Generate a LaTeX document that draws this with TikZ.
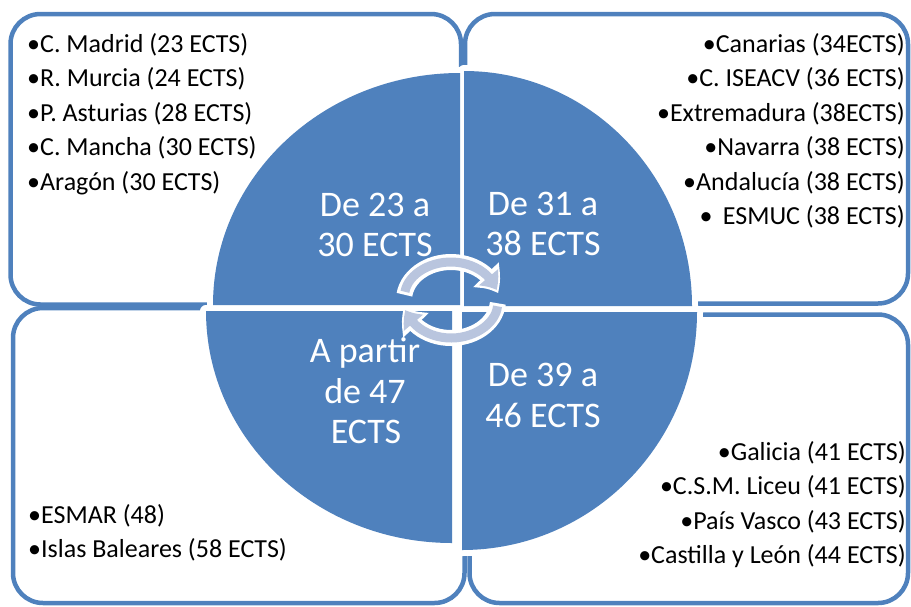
\documentclass[tikz,border=0pt]{standalone}
\usepackage{fontspec}
\setmainfont{Carlito}
\usetikzlibrary{arrows.meta,bending}

\definecolor{ctsblue}{RGB}{79,129,189}
\definecolor{cycfill}{RGB}{185,197,222}

\tikzset{
  box/.style={draw=ctsblue, line width=4.5pt, rounded corners=30pt},
  halo/.style={draw=white, line width=12pt, line join=round},
  quarter/.style={fill=ctsblue},
  item/.style={inner sep=0pt, font=\fontsize{26}{31}\selectfont},
  ectsrange/.style={inner sep=0pt, text=white, font=\fontsize{36}{40}\selectfont},
  cycback/.style={draw=white, line width=16pt, -{Triangle[length=22pt,width=34pt,bend]}},
  cycfront/.style={draw=cycfill, line width=9pt, -{Triangle[length=15pt,width=24pt,bend]},
    shorten >=3.5pt, shorten <=3pt}
}

% quarter of an ellipse: centre x, centre y, start angle, x radius, y radius
\newcommand{\quarterpath}[5]{(#1,#2) -- ++(#3:#4pt and #5pt)
  arc[start angle=#3, delta angle=90, x radius=#4pt, y radius=#5pt] -- cycle}

\begin{document}
\begin{tikzpicture}[x=1pt, y=-1pt]
    \useasboundingbox (0,0) rectangle (911,606);

    % Four rounded boxes
    \draw[box] (10.5,14) rectangle (461,304.5);
    \draw[box] (465,14) rectangle (908,303.5);
    \draw[box] (13,308) rectangle (464.5,603);
    \draw[box] (469.5,314.5) rectangle (908,603);

    % White rims round the quarters
    \path[halo] \quarterpath{460}{305}{90}{247}{232};
    \path[halo] \quarterpath{464}{306}{0}{228}{235};
    \path[halo] \quarterpath{452}{311}{180}{246}{232};
    \path[halo] \quarterpath{462}{312}{270}{235}{238};

    % The four quarters
    \fill[quarter] \quarterpath{460}{305}{90}{247}{232};
    \fill[quarter] \quarterpath{464}{306}{0}{228}{235};
    \fill[quarter] \quarterpath{452}{311}{180}{246}{232};
    \fill[quarter] \quarterpath{462}{312}{270}{235}{238};

    % Ranges
    \node[ectsrange, anchor=base] (tlr1) at (375,216) {De 23 a};
    \node[ectsrange, anchor=base] (tlr2) at (375,256) {30 ECTS};
    \node[ectsrange, anchor=base] (trr1) at (543,215) {De 31 a};
    \node[ectsrange, anchor=base] (trr2) at (543,255) {38 ECTS};
    \node[ectsrange, anchor=base] (blr1) at (365,362) {A partir};
    \node[ectsrange, anchor=base] (blr2) at (365,403) {de 47};
    \node[ectsrange, anchor=base] (blr3) at (366,443) {ECTS};
    \node[ectsrange, anchor=base] (brr1) at (543,386) {De 39 a};
    \node[ectsrange, anchor=base] (brr2) at (543,427) {46 ECTS};

    % Cycle arrows in the middle
    \coordinate (cyc) at (451,300);
    \draw[cycback] (cyc) ++(172:47pt and 38pt)
      arc[start angle=172, end angle=10, x radius=47pt, y radius=38pt];
    \draw[cycfront] (cyc) ++(172:47pt and 38pt)
      arc[start angle=172, end angle=10, x radius=47pt, y radius=38pt];
    \draw[cycback] (cyc) ++(-5:47pt and 38pt)
      arc[start angle=-5, end angle=-170, x radius=47pt, y radius=38pt];
    \draw[cycfront] (cyc) ++(-5:47pt and 38pt)
      arc[start angle=-5, end angle=-170, x radius=47pt, y radius=38pt];

    % Top left list
    \node[item, anchor=base west] (tl1) at (27,52) {•C. Madrid (23 ECTS)};
    \node[item, anchor=base west] (tl2) at (27,86.5) {•R. Murcia (24 ECTS)};
    \node[item, anchor=base west] (tl3) at (27,121) {•P. Asturias (28 ECTS)};
    \node[item, anchor=base west] (tl4) at (27,155.5) {•C. Mancha (30 ECTS)};
    \node[item, anchor=base west] (tl5) at (27,190) {•Aragón (30 ECTS)};

    % Top right list
    \node[item, anchor=base east] (tr1) at (905,52) {•Canarias (34ECTS)};
    \node[item, anchor=base east] (tr2) at (905,86.5) {•C. ISEACV (36 ECTS)};
    \node[item, anchor=base east] (tr3) at (905,121) {•Extremadura (38ECTS)};
    \node[item, anchor=base east] (tr4) at (905,155.5) {•Navarra (38 ECTS)};
    \node[item, anchor=base east] (tr5) at (905,190) {•Andalucía (38 ECTS)};
    \node[item, anchor=base east] (tr6) at (905,224.5) {•\hspace{0.4em}ESMUC (38 ECTS)};

    % Bottom right list
    \node[item, anchor=base east] (br1) at (906,460) {•Galicia (41 ECTS)};
    \node[item, anchor=base east] (br2) at (906,494.5) {•C.S.M. Liceu (41 ECTS)};
    \node[item, anchor=base east] (br3) at (906,529) {•País Vasco (43 ECTS)};
    \node[item, anchor=base east] (br4) at (906,563.5) {•Castilla y León (44 ECTS)};

    % Bottom left list
    \node[item, anchor=base west] (bl1) at (28,523) {•ESMAR (48)};
    \node[item, anchor=base west] (bl2) at (28,557.5) {•Islas Baleares (58 ECTS)};
\end{tikzpicture}
\end{document}
